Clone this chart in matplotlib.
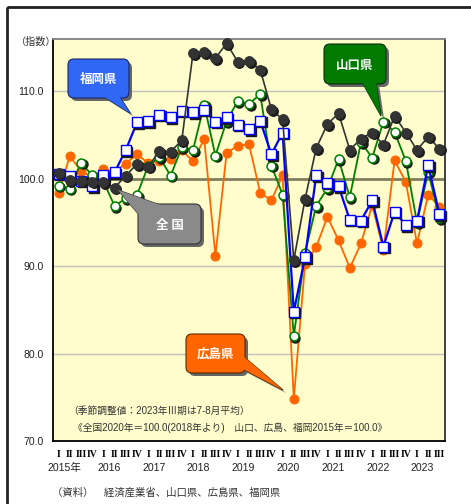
import numpy as np
import matplotlib
matplotlib.use("Agg")
import matplotlib.pyplot as plt
import matplotlib.transforms as mtransforms
from matplotlib.patches import FancyBboxPatch, Polygon, Rectangle

# 鉱工業生産指数（季節調整値）四半期, 2015年I期〜2023年III期
zenkoku = [100.7, 99.85, 99.8, 99.65, 99.6, 99.0, 100.35, 101.7, 101.4, 103.15,
           103.1, 104.4, 114.4, 114.5, 113.8, 115.5, 113.4, 113.45, 112.5, 107.95,
           106.8, 90.7, 97.65, 103.5, 106.25, 107.5, 103.3, 104.6, 105.3, 103.9,
           107.2, 105.3, 103.3, 104.8, 103.45]
yamaguchi = [99.2, 98.85, 101.85, 100.4, 99.7, 96.9, 97.75, 98.15, 101.5, 102.5,
             100.35, 103.6, 103.3, 108.5, 102.65, 106.6, 108.9, 108.55, 109.7, 101.5,
             98.2, 82.0, 91.5, 96.9, 98.9, 102.25, 97.9, 104.2, 102.4, 106.55,
             105.35, 102.05, 95.0, 100.8, 95.5]
fukuoka = [100.6, 100.35, 99.8, 99.15, 100.4, 100.75, 103.3, 106.45, 106.6, 107.35,
           107.05, 107.8, 107.65, 107.9, 106.55, 107.05, 106.2, 105.7, 106.65, 102.8,
           105.3, 84.8, 91.0, 100.4, 99.55, 99.15, 95.3, 95.2, 97.55, 92.25,
           96.25, 94.7, 95.2, 101.55, 95.95]
hiroshima = [98.35, 102.6, 100.9, 100.2, 101.1, 100.8, 101.75, 102.8, 101.8, 102.0,
             102.3, 103.3, 102.0, 104.55, 91.2, 102.95, 103.8, 103.95, 98.4, 97.55,
             100.4, 74.8, 90.2, 92.2, 95.65, 92.95, 89.8, 92.6, 97.0, 91.85,
             102.1, 99.65, 92.6, 98.2, 96.8]

years = ["2015年", "2016", "2017", "2018", "2019", "2020", "2021", "2022", "2023"]
quarter_names = ["I", "II", "III", "IV"]
yticks = [70, 80, 90, 100, 110]

plt.rcParams["font.family"] = ["Liberation Sans", "Noto Sans CJK JP"]

W, H = 471, 504
fig = plt.figure(figsize=(W / 100, H / 100), dpi=100)
# pixel coords, origin at top-left
pix = mtransforms.Affine2D().scale(1 / W, -1 / H).translate(0, 1) + fig.transFigure

fig.add_artist(Rectangle((7, 7), 600, 600, transform=pix, fill=False,
                         ec="#222222", lw=2))

ax = fig.add_axes([53 / W, 1 - 441 / H, (445 - 53) / W, (441 - 39) / H])
ax.set_facecolor("#FFFDCC")
x = np.arange(len(zenkoku))
ax.set_xlim(-0.5, len(x) - 0.5)
ax.set_ylim(70, 116)

for v in (80, 90, 110):
    ax.axhline(v, color="#C0C0C0", lw=1, zorder=1)
ax.axhline(100, color="#7F7F60", lw=2, zorder=1)

for side, col in (("left", "#000000"), ("bottom", "#000000"),
                  ("top", "#808080"), ("right", "#333333")):
    ax.spines[side].set_color(col)
    ax.spines[side].set_linewidth(1.3)

ax.set_yticks(yticks, labels=[f"{v:.1f}" for v in yticks])
ax.tick_params(axis="y", length=0, pad=6.5, labelsize=7.6, labelcolor="#222222")
ax.set_xticks([])

shadow = mtransforms.offset_copy(ax.transData, fig=fig, x=1.6, y=-1.6, units="dots")


def series(y, color, lw, marker, ms, mfc, mec, mew, z, shade=True):
    ax.plot(x, y, color=color, lw=lw, zorder=z)
    if shade:
        ax.plot(x, y, ls="none", marker=marker, ms=ms, mfc="#1a1a1a", mec="#1a1a1a",
                mew=mew, transform=shadow, zorder=z, clip_on=False)
    ax.plot(x, y, ls="none", marker=marker, ms=ms, mfc=mfc, mec=mec, mew=mew,
            zorder=z, clip_on=False)


series(hiroshima, "#FF6600", 1.3, "o", 6.4, "#FF6600", "#FF6600", 0.8, 3, shade=False)
series(yamaguchi, "#008000", 1.3, "o", 6.4, "white", "#008000", 1.1, 4)
series(fukuoka, "#0000FF", 1.6, "s", 6.6, "white", "#0000FF", 1.0, 5)
series(zenkoku, "#333333", 1.2, "o", 7.0, "#333333", "#333333", 0.8, 6)

# quarter and year labels under the axis
for i in x:
    ax.annotate(quarter_names[i % 4], xy=(i, 0), xycoords=("data", "axes fraction"),
                xytext=(0, -10), textcoords="offset points", ha="center", va="center",
                fontsize=7, fontweight="bold", family="Liberation Serif")
for k, yr in enumerate(years):
    ax.annotate(yr, xy=(4 * k + 0.5, 0), xycoords=("data", "axes fraction"),
                xytext=(0, -19.5), textcoords="offset points", ha="center", va="center",
                fontsize=7.6, color="#222222")


def callout(x0, y0, x1, y1, tail, label, face, edge):
    for d, fc, ec, z in ((3, "#666666", "none", 20), (0, face, edge, 21)):
        pts = [(px + d, py + d) for px, py in tail]
        fig.add_artist(Polygon(pts, closed=True, transform=pix, fc=fc, ec=ec,
                               lw=0.8, zorder=z))
        fig.add_artist(FancyBboxPatch((x0 + d, y0 + d), x1 - x0, y1 - y0,
                                      boxstyle="round,pad=0,rounding_size=6",
                                      transform=pix, fc=fc, ec=ec, lw=0.8, zorder=z))
    fig.add_artist(Polygon(tail, closed=True, transform=pix, fc=face, ec="none",
                           zorder=22))
    fig.text((x0 + x1) / 2, (y0 + y1) / 2 + 1, label, transform=pix, ha="center",
             va="center", color="white", fontsize=9, fontweight="bold",
             family="Noto Sans CJK JP", zorder=23)


callout(68, 59, 129, 98, [(103, 96), (119, 96), (130, 113)], "福岡県", "#3068F5", "#1a2a60")
callout(324, 44, 386, 84, [(362, 82), (376, 82), (381, 116)], "山口県", "#007A00", "#0a300a")
callout(138, 204, 201, 244, [(140, 216), (163, 206), (118, 190)], "全 国", "#8A8A8A", "#333333")
callout(186, 334, 245, 373, [(243, 356), (243, 369), (283, 390)], "広島県", "#FF6600", "#5a2a00")

fig.text(68, 411, "（季節調整値：2023年Ⅲ期は7-8月平均）", transform=pix,
         ha="left", va="center", fontsize=7, color="#333333")
fig.text(73, 428, "《全国2020年＝100.0(2018年より)　山口、広島、福岡2015年＝100.0》",
         transform=pix, ha="left", va="center", fontsize=7, color="#333333")
fig.text(16, 42, "（指数）", transform=pix, ha="left", va="center", fontsize=7.3,
         color="#333333")
fig.text(52, 493, "（資料）　経済産業省、山口県、広島県、福岡県", transform=pix,
         ha="left", va="center", fontsize=7.5, color="#333333")

fig.savefig("out.png", dpi=100)
